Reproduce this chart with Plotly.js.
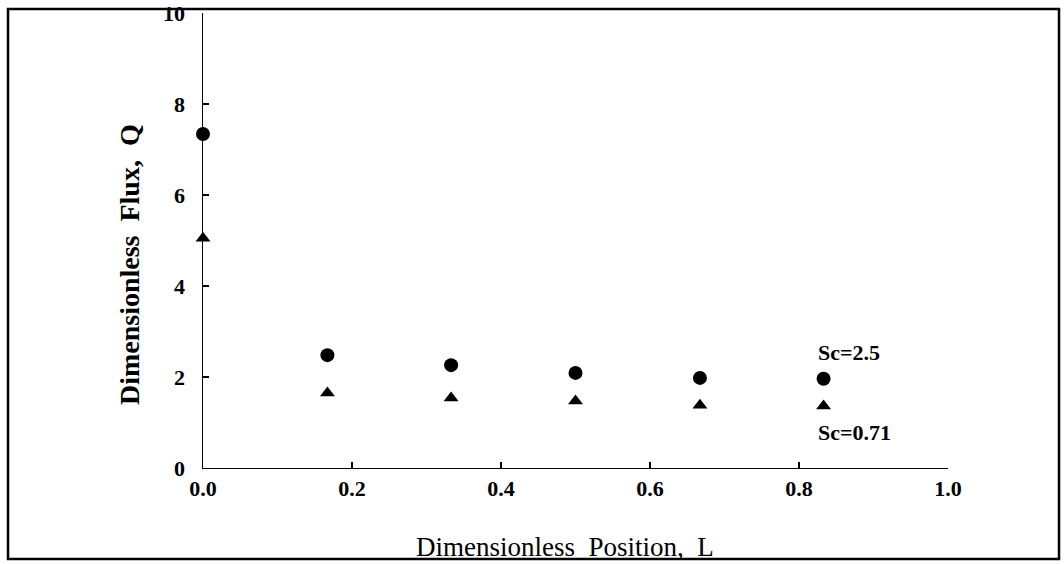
<!DOCTYPE html>
<html>
<head>
<meta charset="utf-8">
<script src="https://cdn.plot.ly/plotly-3.0.1.min.js"></script>
<style>
  html, body { margin: 0; padding: 0; background: #fff; }
  #chart { width: 1064px; height: 564px; }
</style>
</head>
<body>
<div id="chart"></div>
<script>
// Data
const positionL = [0.0, 0.167, 0.333, 0.5, 0.667, 0.833];
const fluxSc25 = [7.34, 2.48, 2.26, 2.09, 1.98, 1.96];
const fluxSc071 = [5.05, 1.65, 1.54, 1.47, 1.38, 1.36];
const xTickVals = [0.0, 0.2, 0.4, 0.6, 0.8, 1.0];
const xTickText = ["0.0", "0.2", "0.4", "0.6", "0.8", "1.0"];
const yTickVals = [0, 2, 4, 6, 8, 10];
const seriesLabels = ["Sc=2.5", "Sc=0.71"];

const serif = "Liberation Serif, Times New Roman, serif";

const traces = [
  {
    x: positionL, y: fluxSc25, type: "scatter", mode: "markers",
    name: seriesLabels[0], cliponaxis: false,
    marker: { symbol: "circle", size: 14, color: "#000" }
  },
  {
    x: positionL, y: fluxSc071, type: "scatter", mode: "markers",
    name: seriesLabels[1], cliponaxis: false,
    marker: { symbol: "triangle-up", size: 13, color: "#000" }
  }
];

const layout = {
  width: 1064, height: 564,
  margin: { l: 203, r: 116, t: 13, b: 96, pad: 0 },
  paper_bgcolor: "#fff", plot_bgcolor: "#fff",
  showlegend: false,
  font: { family: serif, color: "#000" },
  xaxis: {
    range: [0, 1], showgrid: false, zeroline: false,
    showline: true, linecolor: "#000", linewidth: 1.3,
    ticks: "inside", ticklen: 6, tickwidth: 1.2, tickcolor: "#000",
    tickvals: xTickVals, ticktext: xTickText,
    tickfont: { family: serif, size: 22, color: "#000", weight: "bold" },
    ticklabelstandoff: 0
  },
  yaxis: {
    range: [0, 10], showgrid: false, zeroline: false,
    showline: true, linecolor: "#000", linewidth: 1.5,
    ticks: "inside", ticklen: 6, tickwidth: 1.2, tickcolor: "#000",
    tickvals: yTickVals,
    tickfont: { family: serif, size: 22, color: "#000", weight: "bold" },
    ticklabelstandoff: 12
  },
  annotations: [
    {
      text: "Dimensionless  Flux,  Q", xref: "paper", yref: "paper",
      x: -0.0993, y: 0.446, xanchor: "center", yanchor: "middle",
      textangle: -90, showarrow: false,
      font: { family: serif, size: 28, color: "#000", weight: "bold" }
    },
    {
      text: "Dimensionless  Position,  L", xref: "paper", yref: "paper",
      x: 0.486, y: -0.1736, xanchor: "center", yanchor: "middle",
      showarrow: false,
      font: { family: serif, size: 27, color: "#000" }
    },
    {
      text: seriesLabels[0], xref: "x", yref: "y",
      x: 0.823, y: 2.53, xanchor: "left", yanchor: "middle",
      showarrow: false,
      font: { family: serif, size: 22, color: "#000", weight: "bold" }
    },
    {
      text: seriesLabels[1], xref: "x", yref: "y",
      x: 0.823, y: 0.77, xanchor: "left", yanchor: "middle",
      showarrow: false,
      font: { family: serif, size: 22, color: "#000", weight: "bold" }
    }
  ],
  shapes: [
    {
      type: "rect", xref: "paper", yref: "paper",
      x0: -0.2617, x1: 1.149, y0: -0.2, y1: 1.0088,
      line: { color: "#000", width: 2.5 }, fillcolor: "rgba(0,0,0,0)"
    }
  ]
};

Plotly.newPlot("chart", traces, layout, { displayModeBar: false, staticPlot: true });
</script>
</body>
</html>
